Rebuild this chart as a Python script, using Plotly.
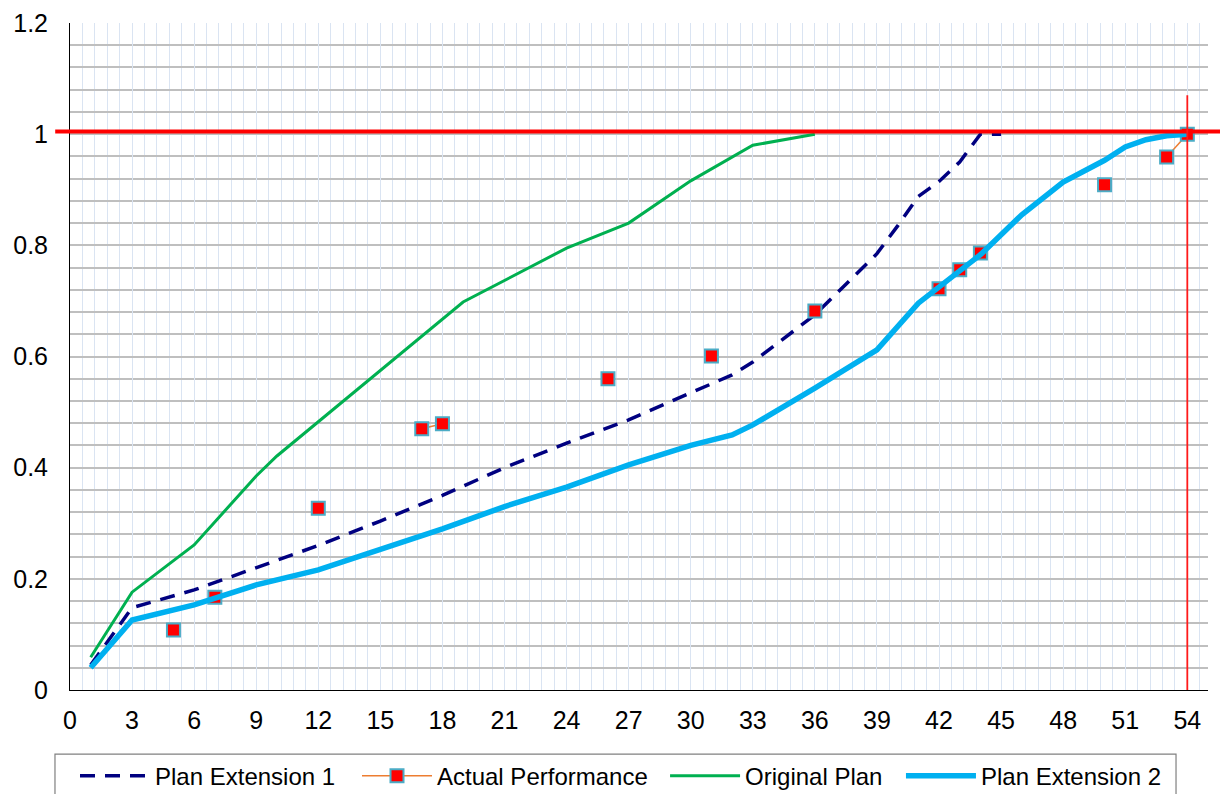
import plotly.graph_objects as go

# ---- data ----
orig_x = [1, 3, 6, 9, 10, 19, 24, 27, 30, 33, 36]
orig_y = [0.059, 0.176, 0.261, 0.385, 0.421, 0.698, 0.795, 0.84, 0.916, 0.98, 1.0]

ext1_x = [1, 3, 6, 9, 12, 15, 18, 21, 24, 27, 30, 32, 33, 36, 39, 40, 41, 42, 43, 44, 45]
ext1_y = [0.045, 0.148, 0.18, 0.22, 0.26, 0.304, 0.35, 0.40, 0.444, 0.486, 0.535, 0.567,
          0.59, 0.675, 0.785, 0.835, 0.888, 0.915, 0.95, 1.0, 1.0]

ext2_x = [1, 3, 6, 9, 12, 15, 18, 21, 24, 27, 30, 32, 33, 36, 39, 41, 42, 44, 46, 48, 50, 51, 52, 53, 54]
ext2_y = [0.04, 0.126, 0.153, 0.189, 0.216, 0.252, 0.29, 0.33, 0.365, 0.405, 0.44, 0.459,
          0.477, 0.543, 0.612, 0.696, 0.725, 0.783, 0.855, 0.914, 0.953, 0.977, 0.99, 0.997, 1.0]

act_x = [5, 7, 12, 17, 18, 26, 31, 36, 42, 43, 44, 50, 53, 54]
act_y = [0.108, 0.167, 0.327, 0.47, 0.479, 0.56, 0.601, 0.682, 0.722, 0.756, 0.786, 0.909, 0.959, 1.0]

target_y = 1.005
deadline_x = 54
x_ticks = list(range(0, 55, 3))
y_ticks = [0, 0.2, 0.4, 0.6, 0.8, 1.0, 1.2]
y_tick_text = ["0", "0.2", "0.4", "0.6", "0.8", "1", "1.2"]

# actual performance: break the line where days are not consecutive
ax, ay = [], []
for i, (x, y) in enumerate(zip(act_x, act_y)):
    if i > 0 and x - act_x[i - 1] > 1:
        ax.append(None)
        ay.append(None)
    ax.append(x)
    ay.append(y)

fig = go.Figure()
fig.add_trace(go.Scatter(x=ext1_x, y=ext1_y, mode="lines", name="Plan Extension 1", legend="legend",
                         line=dict(color="#000080", width=3.5, dash="15px,10px")))
fig.add_trace(go.Scatter(x=ax, y=ay, mode="lines+markers", name="Actual Performance", legend="legend2",
                         connectgaps=False,
                         line=dict(color="#ED7D31", width=1.5),
                         marker=dict(symbol="square", size=13, color="#FF0000",
                                     line=dict(color="#4BACC6", width=2))))
fig.add_trace(go.Scatter(x=orig_x, y=orig_y, mode="lines", name="Original Plan", legend="legend3",
                         line=dict(color="#00B050", width=3)))
fig.add_trace(go.Scatter(x=ext2_x, y=ext2_y, mode="lines", name="Plan Extension 2", legend="legend4",
                         line=dict(color="#00B0F0", width=5.5)))

# target line and deadline line
fig.add_shape(type="line", xref="paper", yref="y", x0=-0.013, x1=1.03, y0=target_y, y1=target_y,
              line=dict(color="#FF0000", width=4), layer="above")
fig.add_shape(type="line", xref="x", yref="y", x0=deadline_x, x1=deadline_x, y0=-0.008, y1=1.07,
              line=dict(color="#FF1A1A", width=1.8), layer="above")
# legend frame
fig.add_shape(type="rect", xref="paper", yref="paper", x0=-0.0132, x1=0.9719, y0=-0.0960, y1=-0.17,
              line=dict(color="#808080", width=1.2), fillcolor="rgba(0,0,0,0)", layer="above")

font = "Liberation Sans, Arial, sans-serif"
leg_common = dict(orientation="h", yanchor="middle", y=-0.129, xanchor="left",
                  bgcolor="rgba(0,0,0,0)", borderwidth=0, itemwidth=70,
                  font=dict(family=font, size=24, color="#000000"))
fig.update_layout(
    width=1220, height=786,
    margin=dict(l=62, r=20, t=15, b=104, autoexpand=False),
    paper_bgcolor="white", plot_bgcolor="white",
    font=dict(family=font, size=24, color="#000000"),
    showlegend=True,
    legend=dict(x=0.0044, **leg_common),
    legend2=dict(x=0.2522, **leg_common),
    legend3=dict(x=0.5229, **leg_common),
    legend4=dict(x=0.7302, **leg_common),
    xaxis=dict(range=[0, 55], tickvals=x_ticks, ticks="", showline=True, linecolor="#000000",
               linewidth=1, showgrid=True, gridcolor="#DAE4F2", gridwidth=1, zeroline=False,
               ticklabelstandoff=8, automargin=False,
               tickfont=dict(family=font, size=25, color="#000000"),
               minor=dict(dtick=0.6, tick0=0, showgrid=True, gridcolor="#DAE4F2", gridwidth=1)),
    yaxis=dict(range=[0, 1.2], tickvals=y_ticks, ticktext=y_tick_text,
               ticks="", showline=True, linecolor="#000000", linewidth=1, showgrid=True,
               gridcolor="#BFBFBF", gridwidth=1.5, zeroline=False, ticklabelstandoff=16,
               automargin=False,
               tickfont=dict(family=font, size=25, color="#000000"),
               minor=dict(dtick=0.04, tick0=0, showgrid=True, gridcolor="#BFBFBF", gridwidth=1.5)),
)

fig.write_html("out.html")
